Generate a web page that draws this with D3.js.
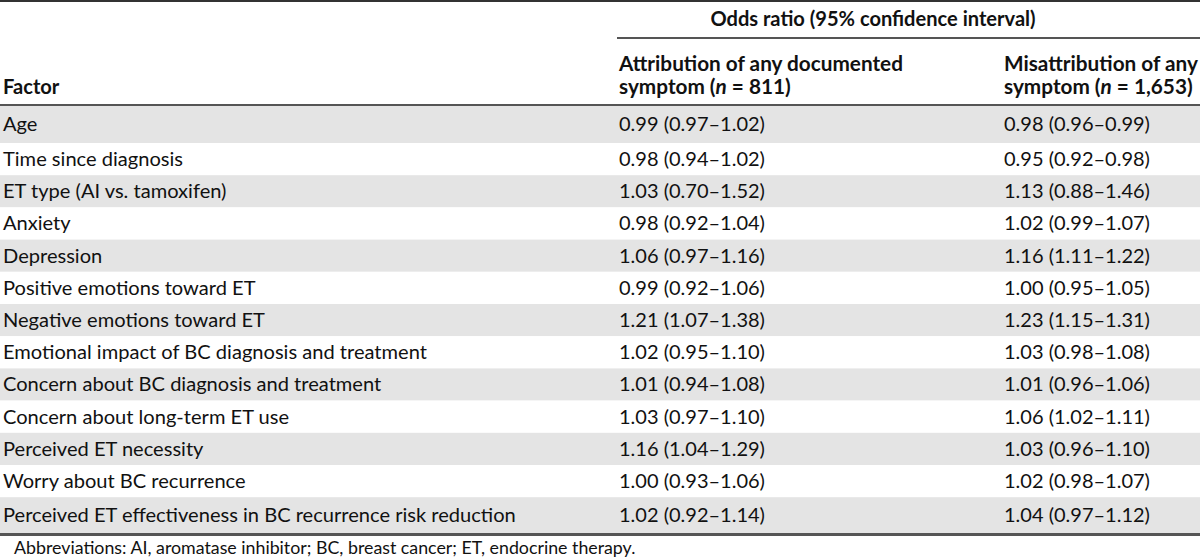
<!DOCTYPE html>
<html><head><meta charset="utf-8">
<script src="https://cdn.jsdelivr.net/npm/d3@7"></script>
<style>html,body{margin:0;padding:0;background:#fff;}svg{display:block;}</style>
</head><body>
<div id="chart"></div>
<script>
const factors = ["Age","Time since diagnosis","ET type (AI vs. tamoxifen)","Anxiety","Depression","Positive emotions toward ET","Negative emotions toward ET","Emotional impact of BC diagnosis and treatment","Concern about BC diagnosis and treatment","Concern about long-term ET use","Perceived ET necessity","Worry about BC recurrence","Perceived ET effectiveness in BC recurrence risk reduction"];
const attribution = ["0.99 (0.97–1.02)","0.98 (0.94–1.02)","1.03 (0.70–1.52)","0.98 (0.92–1.04)","1.06 (0.97–1.16)","0.99 (0.92–1.06)","1.21 (1.07–1.38)","1.02 (0.95–1.10)","1.01 (0.94–1.08)","1.03 (0.97–1.10)","1.16 (1.04–1.29)","1.00 (0.93–1.06)","1.02 (0.92–1.14)"];
const misattribution = ["0.98 (0.96–0.99)","0.95 (0.92–0.98)","1.13 (0.88–1.46)","1.02 (0.99–1.07)","1.16 (1.11–1.22)","1.00 (0.95–1.05)","1.23 (1.15–1.31)","1.03 (0.98–1.08)","1.01 (0.96–1.06)","1.06 (1.02–1.11)","1.03 (0.96–1.10)","1.02 (0.98–1.07)","1.04 (0.97–1.12)"];
const spanHeader = "Odds ratio (95% confidence interval)";
const colHeaders = [
  [["Attribution of any documented"],["symptom (", {i:"n"}, " = 811)"]],
  [["Misattribution of any"],["symptom (", {i:"n"}, " = 1,653)"]]
];
const factorHeader = "Factor";
const footnote = "Abbreviations: AI, aromatase inhibitor; BC, breast cancer; ET, endocrine therapy.";

(function(){
const W = 1200, H = 559;
const FONT = "Lato, 'Open Sans', sans-serif";
const svg = d3.select("#chart").append("svg").attr("width", W).attr("height", H);

function measure(txt, size, weight) {
  const t = svg.append("text").attr("font-family", FONT).attr("font-size", size).attr("font-weight", weight||"normal").text(txt);
  const w = t.node().getComputedTextLength(); t.remove(); return w;
}
const fs = 100 * 513 / measure(factors[12], 100);
const fsNum = 100 * 146 / measure(attribution[0], 100);
const fsFoot = 100 * 622 / measure(footnote, 100);
const fsBold = fs;
const fsColHead = 100 * 284 / measure(colHeaders[0][0][0], 100, "bold");

const n = factors.length;
const inner = d3.scaleLinear().domain([0, n - 2]).range([143, 143 + (n - 2) * 32.2]);
const rowTop = i => i === 0 ? 106 : inner(i - 1);
const rowBot = i => i === n - 1 ? 533 : inner(i);

svg.append("g").selectAll("rect").data(factors).join("rect")
  .attr("x", 0).attr("width", W)
  .attr("y", (d, i) => rowTop(i)).attr("height", (d, i) => rowBot(i) - rowTop(i))
  .attr("fill", (d, i) => i % 2 === 0 ? "#e4e4e4" : "#fff");

const cols = [{x: 3, data: factors, size: fs}, {x: 619, data: attribution, size: fsNum}, {x: 1004, data: misattribution, size: fsNum}];
cols.forEach(c => {
  svg.append("g").selectAll("text").data(c.data).join("text")
    .attr("x", c.x)
    .attr("y", (d, i) => (rowTop(i) + rowBot(i)) / 2 + fs * 0.34)
    .attr("font-family", FONT).attr("font-size", c.size).attr("fill", "#111")
    .text(d => d);
});

svg.append("line").attr("x1", 0).attr("x2", W).attr("y1", 1).attr("y2", 1).attr("stroke", "#333").attr("stroke-width", 2);
svg.append("line").attr("x1", 617).attr("x2", W).attr("y1", 38).attr("y2", 38).attr("stroke", "#555").attr("stroke-width", 2);
svg.append("line").attr("x1", 0).attr("x2", W).attr("y1", 105).attr("y2", 105).attr("stroke", "#555").attr("stroke-width", 2);
svg.append("line").attr("x1", 0).attr("x2", W).attr("y1", 534.5).attr("y2", 534.5).attr("stroke", "#555").attr("stroke-width", 3);

svg.append("text").attr("x", 873).attr("y", 26).attr("text-anchor", "middle")
  .attr("font-family", FONT).attr("font-size", fsBold).attr("font-weight", "bold").attr("fill", "#111")
  .text(spanHeader);
svg.append("text").attr("x", 3).attr("y", 94)
  .attr("font-family", FONT).attr("font-size", fsBold).attr("font-weight", "bold").attr("fill", "#111")
  .text(factorHeader);
[619, 1004].forEach((x, ci) => {
  colHeaders[ci].forEach((line, li) => {
    const t = svg.append("text").attr("x", x).attr("y", 71 + li * 23)
      .attr("font-family", FONT).attr("font-size", fsColHead).attr("font-weight", "bold").attr("fill", "#111");
    line.forEach(part => {
      if (typeof part === "string") t.append("tspan").text(part);
      else t.append("tspan").attr("font-style", "italic").text(part.i);
    });
  });
});

svg.append("text").attr("x", 14).attr("y", 554)
  .attr("font-family", FONT).attr("font-size", fsFoot).attr("fill", "#111")
  .text(footnote);
})();
</script>
</body></html>
